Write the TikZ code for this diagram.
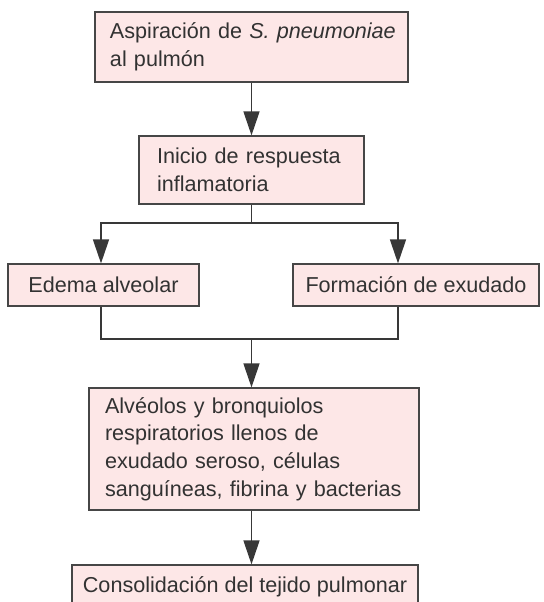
\documentclass[tikz,border=0pt]{standalone}
\usepackage{fontspec}
\setmainfont{Liberation Sans}
\usetikzlibrary{arrows.meta}
\definecolor{boxfill}{RGB}{253,231,231}
\definecolor{boxline}{RGB}{70,70,70}
\definecolor{textgray}{RGB}{50,50,50}

\begin{document}
\begin{tikzpicture}[x=0.5pt, y=-0.5pt,
    every node/.style={font=\fontsize{10.8}{13.8}\selectfont, text=textgray},
    box/.style={draw=boxline, line width=0.6pt, fill=boxfill, rectangle, inner ysep=0pt},
    conn/.style={draw=boxline!80!black, line width=0.7pt},
    arr/.style={conn, -{Triangle[length=12pt, width=8pt]}}]
    \useasboundingbox (0,0) rectangle (544,602);
    \clip (0,0) rectangle (544,602);

    % Aspiration
    \node[box, minimum width=156.5pt, minimum height=35pt, inner xsep=7.5pt, text width=141.5pt, align=left] (asp) at (251.5,47) {\mbox{Aspiración de \textit{S. pneumoniae}}\\al pulmón};

    % Inflammatory response
    \node[box, minimum width=112.5pt, minimum height=34pt, inner xsep=9pt, text width=94.5pt, align=left] (infl) at (251.5,170) {Inicio de respuesta\\inflamatoria};

    % Edema and exudate
    \node[box, minimum width=95.5pt, minimum height=21pt] (edema) at (103.5,285) {Edema alveolar};
    \node[box, minimum width=123pt, minimum height=21pt] (exud) at (416,285) {Formación de exudado};

    % Filled alveoli
    \node[box, minimum width=165pt, minimum height=61pt, inner xsep=8pt, text width=149pt, align=left] (alv) at (254,449) {Alvéolos y bronquiolos\\respiratorios llenos de\\exudado seroso, células\\\mbox{sanguíneas, fibrina y bacterias}};

    % Consolidation
    \node[box, minimum width=173pt, minimum height=21.5pt] (cons) at (245,586.5) {Consolidación del tejido pulmonar};

    % Connectors
    \coordinate (split) at (251.5,223);
    \coordinate (merge) at (251.5,339);
    \draw[arr] (asp.south) -- (infl.north);
    \draw[conn] (infl.south) -- (split);
    \draw[arr] (split) -| ([xshift=-1.25pt]edema.north);
    \draw[arr] (split) -| ([xshift=-9pt]exud.north);
    \draw[conn] ([xshift=-1.25pt]edema.south) |- (merge) -| ([xshift=-9pt]exud.south);
    \draw[arr] (merge) -- (merge |- alv.north);
    \draw[arr] (alv.south -| merge) -- (cons.north -| merge);
\end{tikzpicture}
\end{document}
